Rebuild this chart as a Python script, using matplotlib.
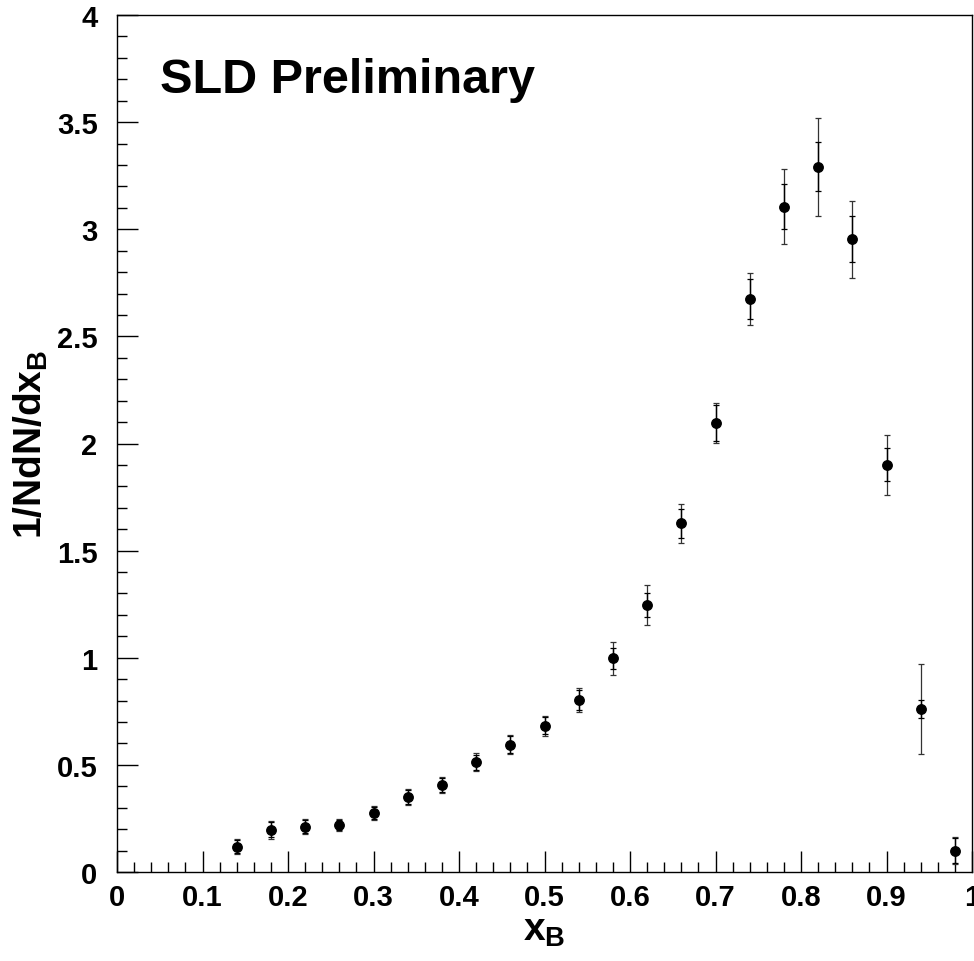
import matplotlib
matplotlib.use("Agg")
import matplotlib.pyplot as plt
from matplotlib.ticker import MultipleLocator

plt.rcParams['font.family'] = ['Liberation Sans', 'DejaVu Sans']
plt.rcParams['mathtext.fontset'] = 'custom'
plt.rcParams['mathtext.rm'] = 'Liberation Sans'
plt.rcParams['mathtext.bf'] = 'Liberation Sans:bold'
plt.rcParams['mathtext.it'] = 'Liberation Sans:italic'

x_b = [0.14, 0.18, 0.22, 0.26, 0.30, 0.34, 0.38, 0.42, 0.46, 0.50, 0.54,
       0.58, 0.62, 0.66, 0.70, 0.74, 0.78, 0.82, 0.86, 0.90, 0.94, 0.98]
dist = [0.118, 0.197, 0.211, 0.219, 0.275, 0.349, 0.406, 0.512, 0.594, 0.683, 0.803,
        0.997, 1.246, 1.627, 2.096, 2.674, 3.105, 3.292, 2.954, 1.901, 0.761, 0.100]
err_tot = [0.035, 0.041, 0.035, 0.028, 0.033, 0.037, 0.037, 0.042, 0.045, 0.046, 0.055,
           0.076, 0.092, 0.092, 0.092, 0.121, 0.175, 0.229, 0.180, 0.140, 0.209, 0.062]
err_stat = [0.030, 0.035, 0.030, 0.024, 0.028, 0.032, 0.032, 0.036, 0.040, 0.040, 0.047,
            0.050, 0.058, 0.067, 0.084, 0.095, 0.104, 0.113, 0.107, 0.078, 0.040, 0.060]
x_ticks = [0, 0.1, 0.2, 0.3, 0.4, 0.5, 0.6, 0.7, 0.8, 0.9, 1]
x_tick_labels = ['0', '0.1', '0.2', '0.3', '0.4', '0.5', '0.6', '0.7', '0.8', '0.9', '1']
y_ticks = [0, 0.5, 1, 1.5, 2, 2.5, 3, 3.5, 4]
y_tick_labels = ['0', '0.5', '1', '1.5', '2', '2.5', '3', '3.5', '4']

fig = plt.figure(figsize=(9.74, 9.62), dpi=100)
ax = fig.add_axes([117/974, (962-873)/962, (972-117)/974, (873-16)/962])

ax.errorbar(x_b, dist, yerr=err_tot, fmt='none', ecolor='#333333', elinewidth=0.9,
            capsize=2.5, capthick=0.9)
ax.errorbar(x_b, dist, yerr=err_stat, fmt='o', color='black', ms=6.8,
            ecolor='black', elinewidth=1.0, capsize=2.5, capthick=0.9)

ax.set_xlim(0, 1)
ax.set_ylim(0, 4)
ax.set_xticks(x_ticks)
ax.set_xticklabels(x_tick_labels)
ax.set_yticks(y_ticks)
ax.set_yticklabels(y_tick_labels)
ax.xaxis.set_minor_locator(MultipleLocator(0.02))
ax.yaxis.set_minor_locator(MultipleLocator(0.1))
ax.tick_params(which='both', direction='in', top=False, right=False, width=1, color='black')
ax.tick_params(which='major', length=15, labelsize=21)
ax.tick_params(axis='x', which='major', pad=8)
ax.tick_params(axis='y', which='major', pad=14)
ax.tick_params(which='minor', length=7)
for lab in ax.get_xticklabels() + ax.get_yticklabels():
    lab.set_fontweight('bold')
for s in ax.spines.values():
    s.set_linewidth(1.0)

ax.set_xlabel(r'$\mathbf{x_B}$', fontsize=28, labelpad=1)
ax.set_ylabel(r'$\mathbf{1/NdN/dx_B}$', fontsize=28, labelpad=5)

ax.text(0.05, 0.925, 'SLD Preliminary', transform=ax.transAxes, fontsize=35,
        fontweight='bold', ha='left', va='center')

fig.savefig('out.png', dpi=100)
